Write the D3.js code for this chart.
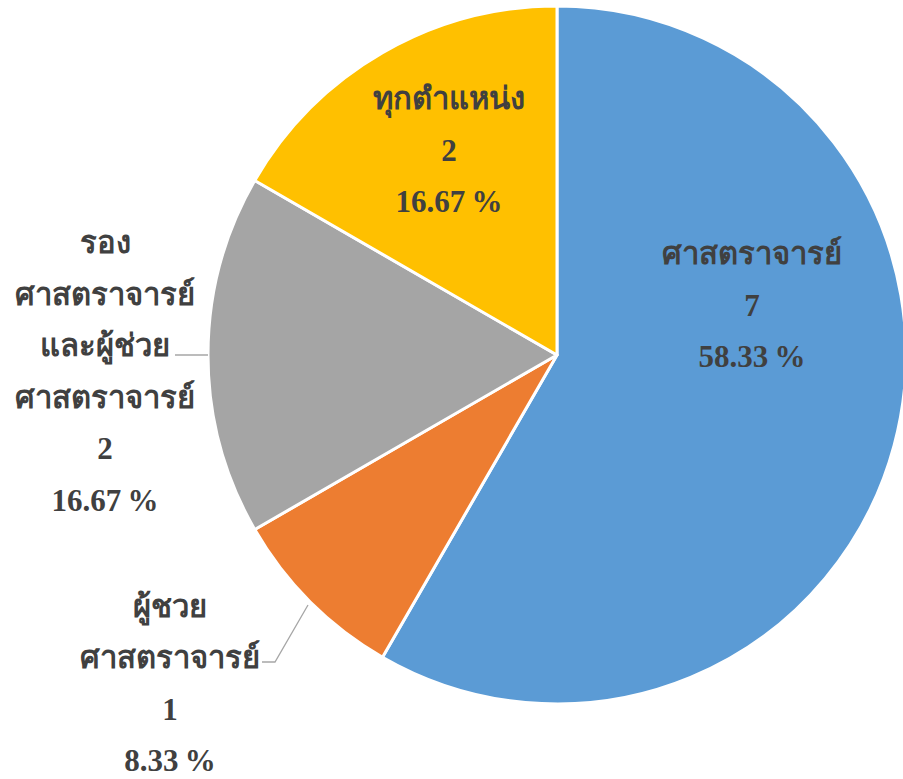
<!DOCTYPE html>
<html>
<head>
<meta charset="utf-8">
<script src="https://cdn.jsdelivr.net/npm/d3@7"></script>
<style>
  body { margin: 0; background: #fff; }
  svg text { font-family: "Liberation Serif", "Noto Sans", sans-serif; font-weight: bold; fill: #404040; }
</style>
</head>
<body>
<svg id="chart" width="903" height="779"></svg>
<script>
var categories = ['ศาสตราจารย์', 'ผู้ชวยศาสตราจารย์', 'รองศาสตราจารย์และผู้ช่วยศาสตราจารย์', 'ทุกตำแหน่ง'];
var values = [7, 1, 2, 2];
var colors = ['#5b9bd5', '#ed7d31', '#a5a5a5', '#ffc000'];
// label line breaks as in the original
var labelLines = [
  ['ศาสตราจารย์'],
  ['ผู้ชวย', 'ศาสตราจารย์'],
  ['รอง', 'ศาสตราจารย์', 'และผู้ช่วย', 'ศาสตราจารย์'],
  ['ทุกตำแหน่ง']
];

var svg = d3.select('#chart');
var cx = 557, cy = 355, radius = 349;
var total = d3.sum(values);

var pie = d3.pie().sort(null).value(function(d) { return d; });
var arc = d3.arc().innerRadius(0).outerRadius(radius);
var arcs = pie(values);

var g = svg.append('g').attr('transform', 'translate(' + cx + ',' + cy + ')');

g.selectAll('path')
  .data(arcs)
  .enter()
  .append('path')
  .attr('d', arc)
  .attr('fill', function(d, i) { return colors[i]; })
  .attr('stroke', '#fff')
  .attr('stroke-width', 3)
  .attr('stroke-linejoin', 'round');

// label centres, relative to pie centre
var labelPos = [
  [195, -50],
  [-387, 328],
  [-452, 16],
  [-108, -205]
];
var lineGap = 51.5;

arcs.forEach(function(d, i) {
  var lines = labelLines[i].concat([String(values[i]), (values[i] / total * 100).toFixed(2) + '\u2009%']);
  var x = labelPos[i][0];
  var y0 = labelPos[i][1] - (lines.length - 1) * lineGap / 2;
  var t = g.append('text')
    .attr('text-anchor', 'middle')
    .style('font-size', '31px');
  lines.forEach(function(s, k) {
    t.append('tspan')
      .attr('x', x)
      .attr('y', y0 + k * lineGap)
      .attr('dy', '0.35em')
      .text(s);
  });
});

// leader lines
var leader = d3.line();
g.append('path')
  .attr('d', leader([[-382, 0], [-349, 0]]))
  .attr('fill', 'none').attr('stroke', '#a6a6a6').attr('stroke-width', 1.3);
g.append('path')
  .attr('d', leader([[-295, 307], [-282, 307], [-249, 250]]))
  .attr('fill', 'none').attr('stroke', '#a6a6a6').attr('stroke-width', 1.3);
</script>
</body>
</html>
